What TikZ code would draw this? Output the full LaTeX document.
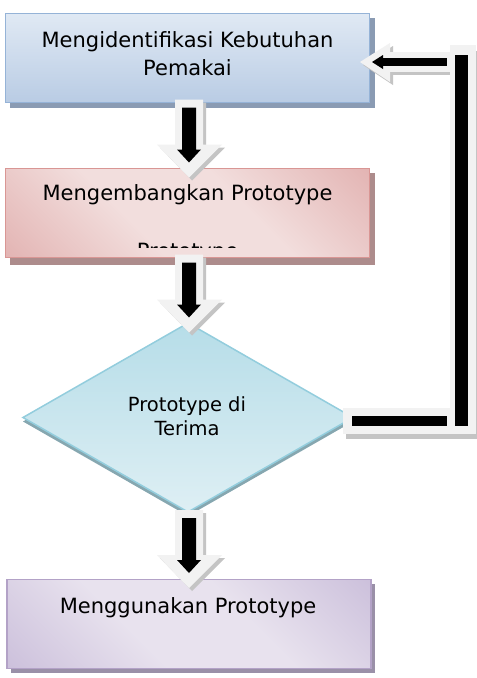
\documentclass[tikz,border=0pt]{standalone}
\usepackage{fontspec}
\setmainfont{DejaVu Sans}
\usetikzlibrary{shapes.geometric,calc,backgrounds}

\definecolor{blueL}{HTML}{E0E9F4}
\definecolor{blueD}{HTML}{B9CCE4}
\definecolor{blueB}{HTML}{95B3D7}
\definecolor{blueS}{HTML}{8A9BB3}
\definecolor{pinkL}{HTML}{F2DEDD}
\definecolor{pinkD}{HTML}{DA9C9B}
\definecolor{pinkB}{HTML}{D99694}
\definecolor{pinkS}{HTML}{AD8C8C}
\definecolor{cyanL}{HTML}{DEEFF4}
\definecolor{cyanD}{HTML}{B6DDE8}
\definecolor{cyanB}{HTML}{93CDDD}
\definecolor{cyanS}{HTML}{86A7B0}
\definecolor{lilaL}{HTML}{E8E2EE}
\definecolor{lilaD}{HTML}{BCADD1}
\definecolor{lilaB}{HTML}{B3A2C7}
\definecolor{lilaS}{HTML}{9A90A8}
\definecolor{arrW}{HTML}{F2F2F2}
\definecolor{arrS}{HTML}{C4C4C4}

% diagonal fills: darker corners, broad light band through the middle
\pgfdeclareverticalshading{pinkband}{100bp}{color(0bp)=(pinkD); color(40bp)=(pinkL);
  color(60bp)=(pinkL); color(100bp)=(pinkD)}
\pgfdeclareverticalshading{lilaband}{100bp}{color(0bp)=(lilaD); color(40bp)=(lilaL);
  color(60bp)=(lilaL); color(100bp)=(lilaD)}

\tikzset{
  stepbox/.style={rectangle, line width=1.8pt, minimum width=364pt, minimum height=89pt,
    inner sep=0pt, outer sep=0pt},
  decision/.style={diamond, line width=1.5pt, minimum width=330pt, minimum height=189pt,
    inner sep=0pt, outer sep=0pt},
  txt/.style={font=\fontsize{21}{28}\selectfont, anchor=base, inner sep=0pt},
  smalltxt/.style={font=\fontsize{19.5}{24}\selectfont, anchor=base, inner sep=0pt},
  pics/downblock/.style={code={
    % grey shadow, white block arrow, black arrow inside
    \fill[arrS] (-11,3) -- (17,3) -- (17,48) -- (36,48) -- (3,81) -- (-29,48) -- (-11,48) -- cycle;
    \fill[arrW] (-14,0) -- (14,0) -- (14,45) -- (33,45) -- (0,78) -- (-32,45) -- (-14,45) -- cycle;
    \fill[black] (-7,8) -- (7,8) -- (7,50) -- (12,50) -- (0,63) -- (-12,50) -- (-7,50) -- cycle;
  }}
}

\begin{document}
\begin{tikzpicture}[x=1pt,y=-1pt]
\useasboundingbox (0,0) rectangle (477,678);

% process boxes and decision
\node[stepbox, draw=blueB, top color=blueL, bottom color=blueD] (b1) at (187.5,58) {};
\node[stepbox, draw=pinkB, shading=pinkband, shading angle=-45] (b2) at (187.5,213) {};
\node[decision, draw=cyanB, top color=cyanD, bottom color=cyanL] (dm) at (188,417.5) {};
\node[stepbox, draw=lilaB, shading=lilaband, shading angle=-45] (b4) at (189,624) {};

% page and drop shadows behind the shapes
\begin{scope}[on background layer]
  \fill[white] (0,0) rectangle (477,678);
  \fill[blueS] ($(b1.north west)+(4,4)$) rectangle ($(b1.south east)+(5,5)$);
  \fill[pinkS] ($(b2.north west)+(4,4)$) rectangle ($(b2.south east)+(5,7)$);
  \fill[cyanS] ($(dm.north)+(0,4)$) -- ($(dm.east)+(0,4)$) -- ($(dm.south)+(0,4)$)
               -- ($(dm.west)+(0,4)$) -- cycle;
  \fill[lilaS] ($(b4.north west)+(4,4)$) rectangle ($(b4.south east)+(4,4)$);
\end{scope}

% texts
\node[txt] (t1a) at ($(b1.north)+(0,34)$) {Mengidentifikasi Kebutuhan};
\node[txt] (t1b) at ($(b1.north)+(0,62)$) {Pemakai};
\node[txt] (t2a) at ($(b2.north)+(0,32)$) {Mengembangkan Prototype};
\begin{scope}
  \clip ($(b2.north west)+(2,2)$) rectangle ($(b2.south east)+(-2,-10)$);
  \node[txt] (t2b) at ($(b2.north)+(0,90)$) {Prototype};
\end{scope}
\node[smalltxt] (t3a) at ($(dm.center)+(-1,-6)$) {Prototype di};
\node[smalltxt] (t3b) at ($(dm.center)+(-1,18)$) {Terima};
\node[txt] (t4) at ($(b4.north)+(-1,34)$) {Menggunakan Prototype};

% downward block arrows between the steps
\pic at ($(b1.south)+(1.5,-3)$) {downblock};
\pic at ($(b2.south)+(1.5,-3)$) {downblock};
\pic at ($(dm.south)+(1,-2)$) {downblock};

% feedback block arrow from the decision back to the first step
\coordinate (fbR) at ($(dm.east)+(108,0)$);
\coordinate (fbT) at ($(fbR |- b1.east)+(0,4)$);
% shadows
\fill[arrS] ($(dm.east)+(-7,-5)$) rectangle ($(dm.east)+(126,21)$);
\fill[arrS] ($(fbT)+(-8,-11)$) rectangle ($(fbR)+(18,21)$);
\fill[arrS] ($(fbT)+(-68,-7)$) rectangle ($(fbT)+(-8,13)$);
\fill[arrS] ($(fbT)+(-98,3)$) -- ($(fbT)+(-68,-16)$) -- ($(fbT)+(-68,23)$) -- cycle;
% white bands
\fill[arrW] ($(dm.east)+(-10,-10)$) rectangle ($(dm.east)+(123,16)$);
\fill[arrW] ($(fbT)+(-11,-17)$) rectangle ($(fbR)+(15,16)$);
\fill[arrW] ($(fbT)+(-71,-10)$) rectangle ($(fbT)+(-11,10)$);
\fill[arrW] ($(fbT)+(-101,0)$) -- ($(fbT)+(-71,-19)$) -- ($(fbT)+(-71,20)$) -- cycle;
% black lines
\fill[black] ($(dm.east)+(-1,-2)$) rectangle ($(dm.east)+(94,8)$);
\fill[black] ($(fbT)+(-6,-7)$) rectangle ($(fbR)+(7,8)$);
\fill[black] ($(fbT)+(-78,-4)$) rectangle ($(fbT)+(-14,4)$);
\fill[black] ($(fbT)+(-89,0)$) -- ($(fbT)+(-78,-7)$) -- ($(fbT)+(-78,7)$) -- cycle;
\end{tikzpicture}
\end{document}
